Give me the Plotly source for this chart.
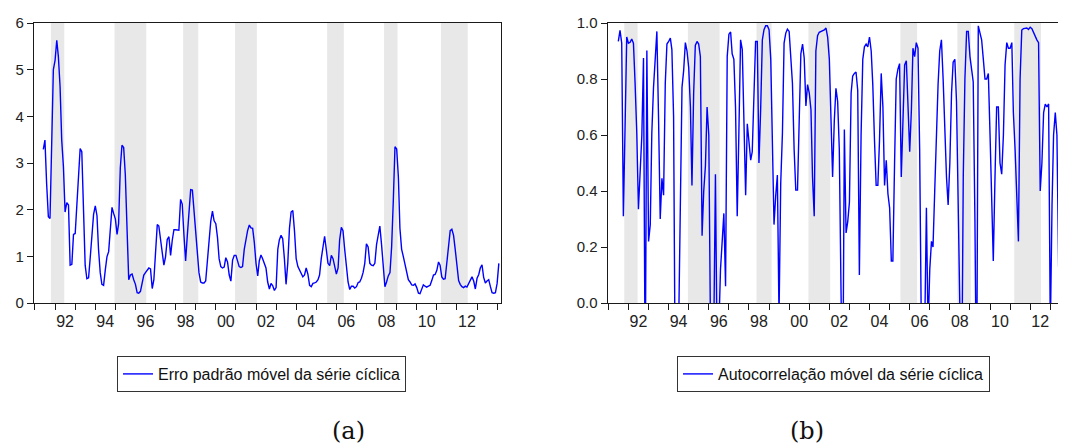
import pandas as pd
import plotly.graph_objects as go

# ---------------- data ----------------
# (a) rolling standard error of the cyclical series, monthly from 1991-06
erro_start = "1991-06-01"
erro_vals = [
    3.29, 3.49, 2.55, 1.85, 1.81, 3.40, 5.00, 5.20, 5.63, 5.28,
    4.64, 3.49, 2.92, 1.95, 2.15, 2.10, 0.81, 0.83, 1.47, 1.49,
    2.10, 2.80, 3.31, 3.24, 2.13, 0.81, 0.52, 0.54, 0.97, 1.50,
    1.90, 2.08, 1.87, 1.15, 0.65, 0.40, 0.38, 0.70, 0.99, 1.10,
    1.55, 2.05, 1.92, 1.80, 1.47, 1.70, 2.90, 3.38, 3.33, 2.75,
    1.60, 0.50, 0.60, 0.62, 0.50, 0.40, 0.22, 0.21, 0.25, 0.45,
    0.60, 0.65, 0.70, 0.75, 0.73, 0.31, 0.50, 1.06, 1.68, 1.65,
    1.35, 1.05, 0.81, 0.99, 1.36, 1.42, 1.02, 1.35, 1.57, 1.57,
    1.57, 1.56, 2.22, 2.12, 1.45, 0.90, 1.45, 2.05, 2.43, 2.42,
    1.95, 1.55, 1.00, 0.65, 0.45, 0.43, 0.43, 0.47, 0.90, 1.30,
    1.75, 1.97, 1.76, 1.70, 1.40, 0.95, 0.78, 0.75, 0.77, 0.97,
    0.88, 0.60, 0.47, 0.92, 1.02, 1.02, 0.90, 0.78, 0.76, 0.78,
    1.15, 1.35, 1.55, 1.67, 1.61, 1.60, 1.30, 0.85, 0.58, 0.90,
    1.03, 0.95, 0.82, 0.75, 0.45, 0.30, 0.42, 0.37, 0.27, 0.33,
    1.15, 1.35, 1.45, 1.38, 0.95, 0.40, 0.85, 1.60, 1.95, 1.98,
    1.55, 0.95, 0.78, 0.70, 0.62, 0.56, 0.60, 0.75, 0.62, 0.38,
    0.35, 0.42, 0.43, 0.45, 0.50, 0.60, 0.95, 1.25, 1.43, 1.15,
    0.85, 0.80, 1.02, 0.95, 0.75, 0.62, 0.75, 1.35, 1.62, 1.55,
    1.15, 0.80, 0.45, 0.29, 0.36, 0.36, 0.32, 0.35, 0.44, 0.45,
    0.53, 0.65, 0.85, 1.27, 1.20, 0.85, 0.81, 0.80, 0.85, 1.25,
    1.50, 1.65, 1.25, 0.75, 0.35, 0.45, 0.58, 0.65, 1.20, 2.20,
    3.35, 3.30, 2.70, 1.60, 1.15, 1.00, 0.82, 0.66, 0.50, 0.45,
    0.39, 0.38, 0.41, 0.33, 0.21, 0.20, 0.30, 0.39, 0.36, 0.34,
    0.36, 0.38, 0.48, 0.60, 0.61, 0.70, 0.88, 0.81, 0.56, 0.51,
    0.52, 0.90, 1.30, 1.55, 1.58, 1.45, 1.15, 0.75, 0.48, 0.40,
    0.35, 0.33, 0.36, 0.34, 0.42, 0.50, 0.56, 0.47, 0.30, 0.53,
    0.61, 0.75, 0.82, 0.55, 0.43, 0.47, 0.50, 0.35, 0.22, 0.21,
    0.22, 0.42, 0.85,
]

# (b) rolling autocorrelation of the cyclical series, monthly from 1991-07
auto_start = "1991-07-01"
auto_vals = [
    0.934, 0.974, 0.928, 0.31, 0.63, 0.95, 0.928, 0.931, 0.943, 0.928,
    0.785, 0.606, 0.335, 0.45, 0.60, 0.875, -0.3, 0.902, 0.22, 0.28,
    0.606, 0.77, 0.87, 0.97, 0.666, 0.30, 0.445, 0.385, 0.785, 0.925,
    0.934, 0.946, 0.905, 0.666, -0.3, -0.5, -0.1, 0.45, 0.77, 0.83,
    0.93, 0.90, 0.84, 0.70, 0.42, 0.75, 0.92, 0.934, 0.925, 0.88,
    0.24, 0.40, 0.49, 0.70, 0.60, -0.1, -0.4, -0.1, 0.46, -0.2,
    -0.1, 0.12, 0.25, 0.32, 0.06, 0.88, 0.96, 0.968, 0.89, 0.87,
    0.70, 0.31, 0.606, 0.94, 0.905, 0.666, 0.385, 0.64, 0.57, 0.51,
    0.54, 0.725, 0.934, 0.934, 0.50, 0.69, 0.94, 0.976, 0.99, 0.99,
    0.976, 0.87, 0.606, 0.28, 0.38, 0.457, -0.05, 0.427, 0.606, 0.928,
    0.964, 0.978, 0.97, 0.88, 0.785, 0.547, 0.403, 0.403, 0.70, 0.89,
    0.925, 0.875, 0.704, 0.78, 0.75, 0.69, 0.45, 0.31, 0.90, 0.955,
    0.967, 0.97, 0.971, 0.975, 0.982, 0.95, 0.87, 0.60, 0.45, 0.65,
    0.767, 0.72, 0.55, 0.05, -0.4, 0.62, 0.25, 0.29, 0.36, 0.75,
    0.81, 0.82, 0.825, 0.76, 0.10, 0.60, 0.87, 0.915, 0.925, 0.915,
    0.95, 0.90, 0.78, 0.58, 0.42, 0.42, 0.58, 0.82, 0.70, 0.42,
    0.51, 0.39, 0.34, 0.15, 0.15, 0.50, 0.80, 0.835, 0.855, 0.45,
    0.70, 0.85, 0.865, 0.70, 0.54, 0.69, 0.91, 0.88, 0.93, 0.91,
    0.55, -0.1, -0.5, -0.1, 0.34, -0.1, 0.12, 0.22, 0.20, 0.40,
    0.62, 0.78, 0.90, 0.94, 0.80, 0.60, 0.45, 0.35, 0.50, 0.75,
    0.86, 0.87, 0.72, 0.35, -0.1, -0.4, 0.45, 0.80, 0.97, 0.97,
    0.88, 0.84, 0.79, 0.30, -0.4, 0.99, 0.97, 0.94, 0.87, 0.80,
    0.80, 0.82, 0.60, 0.30, 0.15, 0.45, 0.70, 0.70, 0.50, 0.46,
    0.60, 0.85, 0.93, 0.91, 0.91, 0.93, 0.68, 0.55, 0.35, 0.22,
    0.80, 0.975, 0.98, 0.98, 0.982, 0.977, 0.985, 0.98, 0.965, 0.955,
    0.94, 0.93, 0.40, 0.50, 0.68, 0.71, 0.70, 0.711, -0.1, 0.35,
    0.60, 0.68, 0.60, 0.13, 0.13, 0.296, 0.30, 0.52,
]

# shaded periods (first and last month)
band_first = ["1991-11", "1995-01", "1998-06", "2001-01", "2005-08", "2008-06", "2011-04"]
band_last = ["1992-06", "1996-07", "1999-02", "2002-01", "2006-05", "2009-01", "2012-07"]

label_years = list(range(1992, 2013, 2))
label_text = [f"{y % 100:02d}" for y in label_years]
tick_years = list(range(1991, 2015))

erro_name = "Erro padrão móvel da série cíclica"
auto_name = "Autocorrelação móvel da série cíclica"
panel_labels = ["(a)", "(b)"]

# ---------------- figure ----------------
erro_x = pd.date_range(erro_start, periods=len(erro_vals), freq="MS")
auto_x = pd.date_range(auto_start, periods=len(auto_vals), freq="MS")

OFF = 8                     # page body margin of the html page
W, H = 1066 - OFF, 448 - OFF
BLUE = "#0000ff"
AX = "#1a1a1a"
FONT = "Liberation Sans"


def px(x):
    return (x - OFF) / W


def py(y):
    return 1 - (y - OFF) / H


fig = go.Figure()
fig.add_trace(go.Scatter(x=erro_x, y=erro_vals, mode="lines", name=erro_name,
                         line=dict(color=BLUE, width=1.4), xaxis="x", yaxis="y",
                         legend="legend"))
fig.add_trace(go.Scatter(x=auto_x, y=auto_vals, mode="lines", name=auto_name,
                         line=dict(color=BLUE, width=1.4), xaxis="x2", yaxis="y2",
                         legend="legend2"))

half = pd.Timedelta(days=15)
shapes = []
for a, b in zip(band_first, band_last):
    x0 = pd.Timestamp(a + "-01") - half
    x1 = pd.Timestamp(b + "-01") + half
    for xr, yr in (("x", "y domain"), ("x2", "y2 domain")):
        shapes.append(dict(type="rect", xref=xr, yref=yr, x0=x0, x1=x1, y0=0, y1=1,
                           fillcolor="#e8e8e8", line=dict(width=0), layer="below"))

mid_vals = [pd.Timestamp(f"{y}-07-01") for y in label_years]
year_vals = [pd.Timestamp(f"{y}-01-01") for y in tick_years]


def xaxis_cfg(domain, rng, anchor):
    return dict(domain=domain, range=rng, anchor=anchor, type="date",
                tickmode="array", tickvals=mid_vals, ticktext=label_text,
                ticks="", ticklabelstandoff=4, automargin=False,
                minor=dict(tickmode="array", tickvals=year_vals, ticks="outside",
                           ticklen=6, tickwidth=1.3, tickcolor=AX, showgrid=False),
                showline=True, linecolor=AX, linewidth=1.4, mirror=True,
                showgrid=False, zeroline=False,
                tickfont=dict(family=FONT, size=16, color="#222"))


def yaxis_cfg(domain, rng, anchor, vals, fmt):
    return dict(domain=domain, range=rng, anchor=anchor, tickmode="array",
                tickvals=vals, tickformat=fmt, ticks="outside", ticklen=6,
                tickwidth=1.3, tickcolor=AX, showline=True, linecolor=AX,
                linewidth=1.4, mirror=True, showgrid=False, zeroline=False,
                automargin=False,
                tickfont=dict(family=FONT, size=15, color="#222"))


yd = [py(303), py(23)]
legend_common = dict(xanchor="left", yanchor="top", bordercolor="#333", borderwidth=1,
                     bgcolor="white", font=dict(family=FONT, size=16, color="#111"),
                     itemwidth=30, tracegroupgap=0)
fig.update_layout(
    width=W, height=H,
    margin=dict(l=0, r=0, t=0, b=0, autoexpand=False),
    paper_bgcolor="white", plot_bgcolor="white",
    showlegend=True,
    xaxis=xaxis_cfg([px(34), px(500.7)], ["1990-12-14", "2014-03-07"], "y"),
    xaxis2=xaxis_cfg([px(607.7), 1.0], ["1990-12-20", "2013-10-13"], "y2"),
    yaxis=yaxis_cfg(yd, [0, 6], "x", [0, 1, 2, 3, 4, 5, 6], "d"),
    yaxis2=yaxis_cfg(yd, [0, 1], "x2", [0, 0.2, 0.4, 0.6, 0.8, 1.0], ".1f"),
    legend=dict(x=px(117), y=py(356), **legend_common),
    legend2=dict(x=px(677), y=py(356), **legend_common),
    shapes=shapes,
    annotations=[
        dict(text=panel_labels[0], x=px(348), y=py(431), xref="paper", yref="paper",
             showarrow=False, xanchor="center", yanchor="middle",
             font=dict(family="DejaVu Serif", size=24, color="#111")),
        dict(text=panel_labels[1], x=px(807), y=py(431), xref="paper", yref="paper",
             showarrow=False, xanchor="center", yanchor="middle",
             font=dict(family="DejaVu Serif", size=24, color="#111")),
    ],
)

fig.write_html("out.html")
